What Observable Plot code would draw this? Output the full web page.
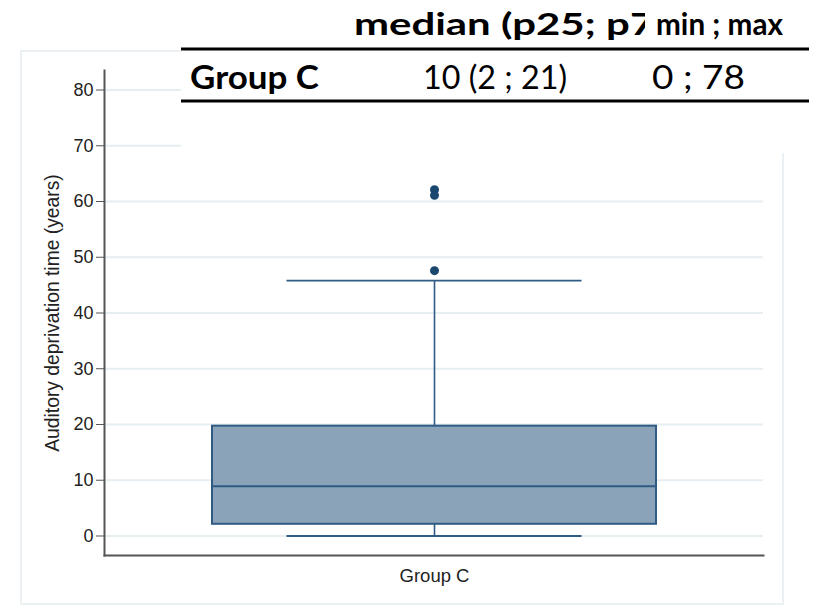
<!DOCTYPE html>
<html>
<head>
<meta charset="utf-8">
<script src="https://cdn.jsdelivr.net/npm/d3@7"></script>
<script src="https://cdn.jsdelivr.net/npm/@observablehq/plot@0.6"></script>
<style>
  html, body { margin: 0; padding: 0; background: #fff; }
  #wrap { position: relative; width: 815px; height: 606px; overflow: hidden; }
  #wrap > svg { position: absolute; left: 0; top: 0; }
  #overlay { pointer-events: none; }
  #wrap g[aria-label="y-axis tick label"], #wrap g[aria-label="y-axis tick label"] text { font-size: 18px !important; fill: #222; }
  #wrap g[aria-label="x-axis tick label"], #wrap g[aria-label="x-axis tick label"] text { font-size: 18.5px !important; fill: #222; }
</style>
</head>
<body>
<div id="wrap"></div>
<script>
// ---- data ----
const groups = ["Group C"];
const q1 = [2.1];
const medians = [8.9];
const q3 = [19.7];
const whiskerLow = [0];
const whiskerHigh = [45.8];
const outlierGroup = ["Group C", "Group C", "Group C"];
const outlierValues = [62.1, 61.1, 47.6];
const yTicks = [0, 10, 20, 30, 40, 50, 60, 70, 80];
const yDomain = [-3.5, 83.5];
const yTitle = "Auditory deprivation time (years)";

// table pasted above the chart
const tableHeader = ["median (p25; p75)", "min ; max"];
const tableRowLabel = "Group C";
const tableRow = ["10 (2 ; 21)", "0 ; 78"];

// ---- build ----
const boxes = groups.map((g, i) => ({
  group: g, q1: q1[i], median: medians[i], q3: q3[i], lo: whiskerLow[i], hi: whiskerHigh[i]
}));
const outliers = outlierValues.map((v, i) => ({group: outlierGroup[i], value: v}));

const lineColor = "#2f5b84";
const fillColor = "#8ba3b8";
const gridColor = "#e6eef1";
const axisColor = "#555555";

const chart = Plot.plot({
  width: 815,
  height: 606,
  marginLeft: 104,
  marginRight: 52,
  marginTop: 70,
  marginBottom: 51,
  style: {background: "transparent", fontFamily: "'Liberation Sans', Arial, sans-serif", fontSize: "18px", color: "#222"},
  x: {type: "band", domain: groups, padding: 0.195},
  y: {domain: yDomain},
  marks: [
    Plot.ruleY(yTicks, {stroke: gridColor, strokeWidth: 2}),
    Plot.ruleX(boxes, {x: "group", y1: "lo", y2: "q1", stroke: lineColor, strokeWidth: 1.6}),
    Plot.ruleX(boxes, {x: "group", y1: "q3", y2: "hi", stroke: lineColor, strokeWidth: 1.6}),
    Plot.tickY(boxes, {x: "group", y: "lo", insetLeft: 74.5, insetRight: 74.5, stroke: lineColor, strokeWidth: 1.8}),
    Plot.tickY(boxes, {x: "group", y: "hi", insetLeft: 74.5, insetRight: 74.5, stroke: lineColor, strokeWidth: 1.8}),
    Plot.barY(boxes, {x: "group", y1: "q1", y2: "q3", fill: fillColor, stroke: lineColor, strokeWidth: 2}),
    Plot.tickY(boxes, {x: "group", y: "median", stroke: lineColor, strokeWidth: 2}),
    Plot.dot(outliers, {x: "group", y: "value", r: 4.5, fill: "#1a476f", stroke: "none"}),
    Plot.axisY({ticks: yTicks, tickSize: 8, tickPadding: 3, label: null, fontSize: 18, stroke: axisColor}),
    Plot.axisX({tickSize: 0, tickPadding: 13, label: null, fontSize: 18.5}),
    Plot.text([yTitle], {frameAnchor: "left", textAnchor: "middle", dx: -52, rotate: -90, fontSize: 19.3, fill: "#222"}),
    Plot.frame({anchor: "left", stroke: axisColor, strokeWidth: 2}),
    Plot.frame({anchor: "bottom", stroke: axisColor, strokeWidth: 2})
  ]
});

const wrap = document.getElementById("wrap");
wrap.appendChild(chart);

// ---- overlay: outer frame + pasted table ----
const ov = d3.select(wrap).append("svg")
  .attr("id", "overlay")
  .attr("width", 815).attr("height", 606);

ov.append("rect")
  .attr("x", 21).attr("y", 51).attr("width", 762).attr("height", 553)
  .attr("fill", "none").attr("stroke", gridColor).attr("stroke-width", 1.6);

ov.append("rect")
  .attr("x", 181).attr("y", 0).attr("width", 634).attr("height", 153)
  .attr("fill", "#fff");

ov.append("clipPath").attr("id", "hclip")
  .append("rect").attr("x", 181).attr("y", 0).attr("width", 464).attr("height", 48);

const tFont = "Lato, 'Open Sans', sans-serif";

ov.append("text")
  .attr("x", 354).attr("y", 35)
  .attr("clip-path", "url(#hclip)")
  .attr("font-family", tFont).attr("font-weight", 700).attr("font-size", 31)
  .attr("textLength", 336).attr("lengthAdjust", "spacingAndGlyphs")
  .text(tableHeader[0]);

ov.append("text")
  .attr("x", 656).attr("y", 35)
  .attr("font-family", tFont).attr("font-weight", 700).attr("font-size", 31)
  .attr("textLength", 127).attr("lengthAdjust", "spacingAndGlyphs")
  .text(tableHeader[1]);

ov.append("text")
  .attr("x", 190).attr("y", 89)
  .attr("font-family", tFont).attr("font-weight", 700).attr("font-size", 32)
  .attr("textLength", 129).attr("lengthAdjust", "spacingAndGlyphs")
  .text(tableRowLabel);

ov.append("text")
  .attr("x", 423).attr("y", 89)
  .attr("font-family", tFont).attr("font-weight", 400).attr("font-size", 32)
  .attr("textLength", 144).attr("lengthAdjust", "spacingAndGlyphs")
  .text(tableRow[0]);

ov.append("text")
  .attr("x", 652).attr("y", 89)
  .attr("font-family", tFont).attr("font-weight", 400).attr("font-size", 32)
  .attr("textLength", 93).attr("lengthAdjust", "spacingAndGlyphs")
  .text(tableRow[1]);

[49, 101].forEach(y => {
  ov.append("line")
    .attr("x1", 181).attr("x2", 809).attr("y1", y).attr("y2", y)
    .attr("stroke", "#000").attr("stroke-width", 3);
});
</script>
</body>
</html>
